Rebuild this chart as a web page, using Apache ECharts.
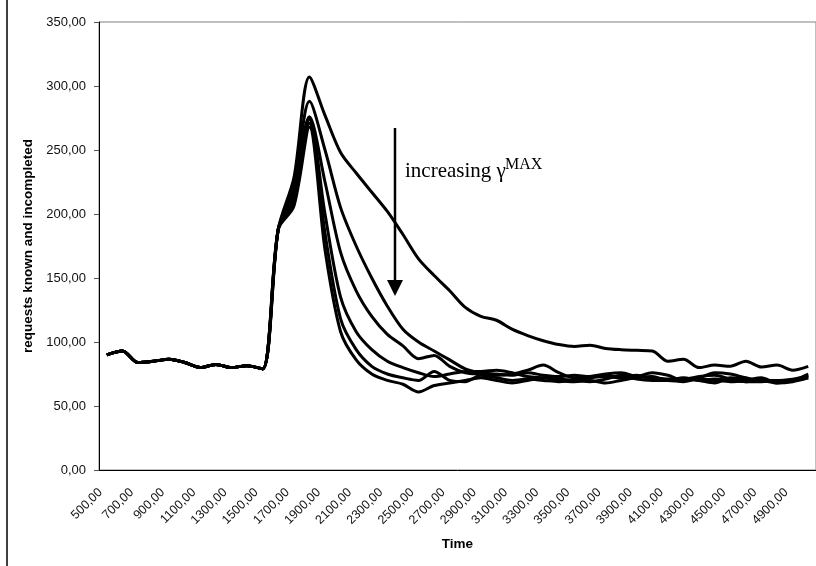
<!DOCTYPE html>
<html>
<head>
<meta charset="utf-8">
<script src="https://cdn.jsdelivr.net/npm/echarts@6/dist/echarts.min.js"></script>
<style>
  html, body { margin: 0; padding: 0; background: #fff; }
  #chart { width: 816px; height: 566px; }
</style>
</head>
<body>
<div id="chart"></div>
<script>
// time categories (x axis)
var times = [500, 600, 700, 800, 900, 1000, 1100, 1200, 1300, 1400, 1500, 1600, 1700, 1800, 1900,
  2000, 2100, 2200, 2300, 2400, 2500, 2600, 2700, 2800, 2900, 3000, 3100, 3200, 3300, 3400,
  3500, 3600, 3700, 3800, 3900, 4000, 4100, 4200, 4300, 4400, 4500, 4600, 4700, 4800, 4900, 5000];

// requests known and incompleted, one run per gamma max (smallest gamma first)
var run1 = [90, 93, 84, 85, 86.5, 84, 80, 82.5, 80, 81.5, 79, 188,
  228, 307, 277, 248, 232, 217, 202, 184, 165, 152, 140, 127, 120, 117, 110, 105, 101, 98, 96.5, 97.5,
  95, 94, 93.5, 93, 85, 86.5, 80, 82, 81, 85, 80.5, 82, 78, 81];
var run2 = [90, 93, 84, 85, 86.5, 84, 80, 82.5, 80, 81.5, 79, 188,
  222, 288, 250, 205, 175, 150, 128, 110, 100, 93, 86, 79,
  76, 75, 74, 76, 74, 73, 74, 73, 74, 72, 73, 76, 74, 70, 72, 76, 75, 72, 70, 70, 71, 73];
var run3 = [90, 93, 84, 85, 86.5, 84, 80, 82.5, 80, 81.5, 79, 188,
  218, 276, 225, 170, 140, 120, 106, 97, 87, 89.5, 81, 76,
  75, 74, 75, 78, 82, 76, 72, 73, 75, 76, 73, 72, 71, 71, 73, 74, 71, 69, 70, 68, 70, 72];
var run4 = [90, 93, 84, 85, 86.5, 84, 80, 82.5, 80, 81.5, 79, 188,
  214, 274, 200, 135, 108, 94, 85, 80, 76, 73, 75, 77,
  77, 78, 76, 73, 72, 71, 70, 72, 73, 72, 74, 71, 70, 72, 70, 71, 70, 69, 69, 70, 70, 74];
var run5 = [90, 93, 84, 85, 86.5, 84, 80, 82.5, 80, 81.5, 79, 188,
  210, 271, 185, 118, 94, 81, 75, 72, 70, 77, 70, 69,
  74, 72, 70, 71, 70, 69, 70, 69, 71, 74, 71, 70, 70, 69, 71, 70, 69, 70, 72, 68, 69, 72];
var run6 = [90, 93, 84, 85, 86.5, 84, 80, 82.5, 80, 81.5, 79, 188,
  206, 268, 172, 108, 86, 75, 70, 67, 61, 66, 68, 70,
  72, 70, 68, 70, 72, 70, 69, 70, 68, 70, 72, 73, 70, 71, 70, 68, 72, 71, 70, 69, 70, 75];

var runs = [run1, run2, run3, run4, run5, run6];

function fmt(v) {
  return Number(v).toFixed(2).replace(".", ",");
}

var chart = echarts.init(document.getElementById("chart"));

var option = {
  animation: false,
  backgroundColor: "#fff",
  grid: {
    left: 99,
    top: 22,
    width: 717.3,
    height: 448,
    show: true,
    borderColor: "#808080",
    borderWidth: 1,
  },
  xAxis: {
    type: "category",
    data: times,
    boundaryGap: true,
    name: "Time",
    nameLocation: "middle",
    nameGap: 67,
    nameTextStyle: {
      fontFamily: "Liberation Sans, Arial",
      fontWeight: "bold",
      fontSize: 13.5,
      color: "#000",
    },
    axisLine: { lineStyle: { color: "#000", width: 1 } },
    axisTick: {
      interval: 0,
      length: 4,
      lineStyle: { color: "#555" },
    },
    axisLabel: {
      interval: 1,
      rotate: 45,
      margin: 14,
      padding: [0, 9, 0, 0],
      fontFamily: "Liberation Sans, Arial",
      fontSize: 12.5,
      color: "#111",
      formatter: fmt,
    },
    splitLine: { show: false },
  },
  yAxis: {
    type: "value",
    min: 0,
    max: 350,
    interval: 50,
    name: "requests known and incompleted",
    nameLocation: "middle",
    nameGap: 62,
    nameTextStyle: {
      fontFamily: "Liberation Sans, Arial",
      fontWeight: "bold",
      fontSize: 13.5,
      color: "#000",
    },
    axisLine: { show: true, lineStyle: { color: "#000", width: 1 } },
    axisTick: { show: true, length: 5, lineStyle: { color: "#555" } },
    axisLabel: {
      margin: 13,
      fontFamily: "Liberation Sans, Arial",
      fontSize: 13,
      color: "#111",
      formatter: fmt,
    },
    splitLine: { show: false },
  },
  series: runs.map(function (d) {
    return {
      type: "line",
      data: d,
      smooth: 0.3,
      showSymbol: false,
      symbol: "none",
      lineStyle: { color: "#000", width: 3 },
    };
  }),
  graphic: [
    // outer frame of the original figure
    {
      type: "line",
      shape: { x1: 7, y1: 0, x2: 7, y2: 566 },
      style: { stroke: "#000", lineWidth: 1.5 },
    },
    // annotation arrow
    {
      type: "line",
      shape: { x1: 395, y1: 128, x2: 395, y2: 284 },
      style: { stroke: "#000", lineWidth: 2.5 },
    },
    {
      type: "polygon",
      shape: { points: [[387, 280], [403, 280], [395, 296]] },
      style: { fill: "#000" },
    },
    {
      type: "text",
      style: {
        x: 405,
        y: 171,
        text: "increasing γ",
        fontFamily: "Liberation Serif, Times New Roman",
        fontSize: 21,
        fill: "#000",
        verticalAlign: "middle",
      },
    },
    {
      type: "text",
      style: {
        x: 505,
        y: 165,
        text: "MAX",
        fontFamily: "Liberation Serif, Times New Roman",
        fontSize: 16,
        fill: "#000",
        verticalAlign: "middle",
      },
    },
  ],
};

chart.setOption(option);
</script>
</body>
</html>
